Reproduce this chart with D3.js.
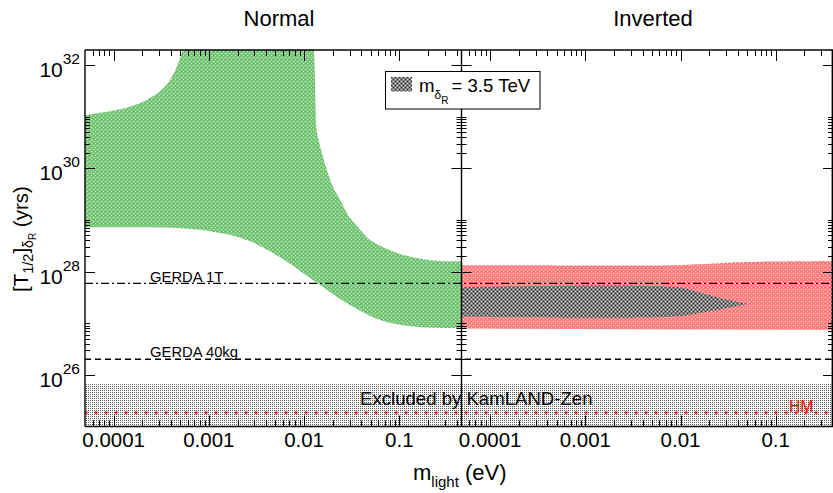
<!DOCTYPE html>
<html><head><meta charset="utf-8">
<script src="https://cdn.jsdelivr.net/npm/d3@7"></script>
<style>body{margin:0;background:#fff}svg{display:block}text{font-family:"Liberation Sans",Arial,Helvetica,sans-serif}</style>
</head><body><svg id="c" width="833" height="493"></svg>
<script>
// ---------------- data ----------------
const panelTitles = ["Normal", "Inverted"];
const xTickValues = [1e-4, 1e-3, 1e-2, 1e-1];
const xTickLabels = ["0.0001", "0.001", "0.01", "0.1"];
const yTickExponents = [26, 28, 30, 32];

// Normal hierarchy band: [m_light (eV), T_1/2 (yrs)]
const normalUpper = [[5e-5,1.07e31],[1.38e-4,1.5e31],[2.41e-4,2.3e31],[3.72e-4,4.5e31],[5.22e-4,1.8e32],[6.0e-4,1e33],
  [0.012,1e33],[0.0127,2.0e32],[0.01324,1.5e31],[0.01355,5.5e30],[0.0158,1.66e30],[0.0201,4.4e29],[0.0239,2.45e29],
  [0.0282,1.35e29],[0.0416,5.6e28],[0.0493,4.1e28],[0.0946,2.3e28],[0.21,1.66e28],[0.45,1.58e28]];
const normalLower = [[5e-5,7.2e28],[4.98e-4,6.9e28],[1.11e-3,5.9e28],[2.5e-3,4.1e28],[5.58e-3,1.9e28],[0.0124,6.9e27],
  [0.0282,2.43e27],[0.0628,1.15e27],[0.14,8.6e26],[0.45,7.9e26]];
// Inverted hierarchy band
const invertedUpper = [[5e-5,1.33e28],[0.008,1.33e28],[0.02,1.42e28],[0.05,1.53e28],[0.4,1.6e28]];
const invertedLower = [[5e-5,7.9e26],[0.4,7.4e26]];
// m_deltaR = 3.5 TeV band (inverted)
const deltaUpper = [[5e-5,5.0e27],[0.0092,5.0e27],[0.0149,4.06e27],[0.026,3.07e27],[0.0512,2.35e27]];
const deltaLower = [[5e-5,1.33e27],[0.0078,1.33e27],[0.0149,1.55e27],[0.026,1.85e27],[0.0512,2.35e27]];

const gerda1T = 5.9e27;
const gerda40kg = 2.0e26;
const kamlandZen = 6.6e25;
const hmClaim = 1.85e25;
const legendText = "= 3.5 TeV";

// ---------------- layout ----------------
const svg = d3.select("#c");
const pTop = 50, pBot = 426.5, xL0 = 85, xMid = 461.5, xR1 = 833;

const xL = d3.scaleLog().domain([5e-5, 0.45]).range([xL0, xMid]);
const xR = d3.scaleLog().domain([5e-5, 0.40]).range([xMid, xR1]);
const y = d3.scaleLog().domain([1e25, 1.95e32]).range([pBot, pTop]);

// patterns
const defs = svg.append("defs");
function pattern(id, base, dots, size) {
  const p = defs.append("pattern").attr("id", id).attr("patternUnits", "userSpaceOnUse")
    .attr("width", size).attr("height", size);
  p.append("rect").attr("width", size).attr("height", size).attr("fill", base).attr("shape-rendering","crispEdges");
  dots.forEach(d => p.append("rect").attr("x", d[0]).attr("y", d[1]).attr("width", 1).attr("height", 1)
    .attr("fill", d[2]).attr("shape-rendering","crispEdges"));
}
pattern("pGreen", "#7ac87a", [[1,1,"#c8eac8"],[3,3,"#c8eac8"],[1,3,"#60b460"]], 4);
pattern("pRed", "#ff8282", [[1,1,"#ffd8d8"],[3,3,"#ffd8d8"],[1,3,"#ff5a5a"]], 4);
pattern("pGray", "#7e7e7e", [[1,1,"#d8d8d8"],[3,3,"#d8d8d8"],[1,3,"#303030"],[3,1,"#303030"]], 4);
pattern("pKam", "#ffffff", [[0,0,"#585858"]], 2);

defs.append("clipPath").attr("id", "clipL").append("rect")
  .attr("x", xL0).attr("y", pTop).attr("width", xMid - xL0).attr("height", pBot - pTop);
defs.append("clipPath").attr("id", "clipR").append("rect")
  .attr("x", xMid).attr("y", pTop).attr("width", xR1 - xMid).attr("height", pBot - pTop);

function bandPath(x, upper, lower) {
  const line = d3.line().x(d => x(d[0])).y(d => y(d[1])).curve(d3.curveCatmullRom.alpha(0.5));
  const a = line(upper);
  const b = line(lower.slice().reverse());
  return a + "L" + b.slice(1) + "Z";
}

const gL = svg.append("g").attr("clip-path", "url(#clipL)");
const gR = svg.append("g").attr("clip-path", "url(#clipR)");

gL.append("path").attr("d", bandPath(xL, normalUpper, normalLower)).attr("fill", "url(#pGreen)");
gR.append("path").attr("d", bandPath(xR, invertedUpper, invertedLower)).attr("fill", "url(#pRed)");
gR.append("path").attr("d", bandPath(xR, deltaUpper, deltaLower)).attr("fill", "url(#pGray)");

// KamLAND-Zen excluded region
svg.append("rect").attr("x", xL0).attr("y", y(kamlandZen)).attr("width", xR1 - xL0)
  .attr("height", pBot - y(kamlandZen)).attr("fill", "url(#pKam)");

// horizontal limit lines
function hline(v, dash, color, w) {
  svg.append("line").attr("x1", xL0).attr("x2", xR1).attr("y1", y(v)).attr("y2", y(v))
    .attr("stroke", color).attr("stroke-width", w).attr("stroke-dasharray", dash);
}
hline(hmClaim, "2.5,7.5", "#ff0000", 2.2);
hline(gerda1T, "8,3,2,3", "#000", 1.4);
hline(gerda40kg, "6,4", "#000", 1.4);

// text labels
svg.append("text").attr("x", 150).attr("y", y(gerda1T) - 1.8).attr("font-size", 14.8).text("GERDA 1T");
svg.append("text").attr("x", 150).attr("y", y(gerda40kg) - 2.6).attr("font-size", 14.8).text("GERDA 40kg");
svg.append("text").attr("x", 360).attr("y", 405).attr("font-size", 18.6).text("Excluded by KamLAND-Zen");
svg.append("text").attr("x", 789).attr("y", 411.5).attr("font-size", 15.6).attr("fill", "#ff0000").text("HM");

// titles
svg.append("text").attr("x", 279).attr("y", 25.5).attr("text-anchor", "middle").attr("font-size", 22).text(panelTitles[0]);
svg.append("text").attr("x", 653).attr("y", 25.5).attr("text-anchor", "middle").attr("font-size", 22).text(panelTitles[1]);

// frames
const frame = svg.append("g").attr("stroke", "#000").attr("stroke-width", 1.4).attr("fill", "none");
frame.append("line").attr("x1", xL0).attr("x2", xR1).attr("y1", pTop).attr("y2", pTop);
frame.append("line").attr("x1", xL0).attr("x2", xR1).attr("y1", pBot).attr("y2", pBot);
frame.append("line").attr("x1", xL0).attr("x2", xL0).attr("y1", pTop).attr("y2", pBot);
frame.append("line").attr("x1", xMid).attr("x2", xMid).attr("y1", pTop).attr("y2", pBot);
frame.append("line").attr("x1", xR1 - 0.7).attr("x2", xR1 - 0.7).attr("y1", pTop).attr("y2", pBot);

// x ticks
const tk = svg.append("g").attr("stroke", "#000").attr("stroke-width", 1);
[xL, xR].forEach(x => {
  x.ticks().forEach(v => {
    const e = Math.log10(v);
    const major = Math.abs(e - Math.round(e)) < 1e-6;
    const len = major ? 11 : 6;
    const px = Math.round(x(v)) + 0.5;
    if (px <= x.range()[0] + 1 || px >= x.range()[1] - 1) return;
    tk.append("line").attr("x1", px).attr("x2", px).attr("y1", pBot).attr("y2", pBot - len);
    tk.append("line").attr("x1", px).attr("x2", px).attr("y1", pTop).attr("y2", pTop + len);
  });
});
[xL, xR].forEach(x => {
  xTickValues.forEach((v, i) => {
    svg.append("text").attr("x", x(v)).attr("y", 447).attr("text-anchor", "middle")
      .attr("font-size", 20.5).text(xTickLabels[i]);
  });
});

// y ticks
y.ticks().forEach(v => {
  const e = Math.floor(Math.log10(v) + 1e-9);
  const k = Math.round(v / Math.pow(10, e));
  let len = 0;
  if (k === 1 && e % 2 === 0) len = 10;
  else if (k === 1) len = 5;
  else if (e % 2 === 0) len = 5;
  if (!len) return;
  const py = Math.round(y(v)) + 0.5;
  if (py < pTop + 1 || py > pBot - 1) return;
  tk.append("line").attr("x1", xL0).attr("x2", xL0 + len).attr("y1", py).attr("y2", py);
  tk.append("line").attr("x1", xMid - len).attr("x2", xMid + len).attr("y1", py).attr("y2", py);
  tk.append("line").attr("x1", xR1 - len).attr("x2", xR1).attr("y1", py).attr("y2", py);
});
yTickExponents.forEach(ex => {
  const t = svg.append("text").attr("x", 80).attr("y", y(Math.pow(10, ex)) + 12).attr("text-anchor", "end");
  t.append("tspan").attr("font-size", 21).text("10");
  t.append("tspan").attr("font-size", 15.5).attr("dy", -13).text(String(ex));
});

// axis titles
const xt = svg.append("text").attr("x", 413).attr("y", 480).attr("font-size", 22);
xt.append("tspan").text("m");
xt.append("tspan").attr("font-size", 15).attr("dy", 6.5).text("light");
xt.append("tspan").attr("dy", -6.5).text(" (eV)");

const yt = svg.append("text").attr("transform", "translate(28,292) rotate(-90)").attr("font-size", 20.5);
yt.append("tspan").text("[T");
yt.append("tspan").attr("font-size", 14.5).attr("dy", 5).text("1/2");
yt.append("tspan").attr("dy", -5).text("]");
yt.append("tspan").attr("font-size", 14).attr("dy", 5).text("δ");
yt.append("tspan").attr("font-size", 10).attr("dy", 3).text("R");
yt.append("tspan").attr("dy", -8).text(" (yrs)");

// legend
const lg = svg.append("g");
lg.append("rect").attr("x", 385.5).attr("y", 71.5).attr("width", 154.5).attr("height", 37.5)
  .attr("fill", "#fff").attr("stroke", "#000").attr("stroke-width", 1);
lg.append("rect").attr("x", 391).attr("y", 77).attr("width", 21).attr("height", 14.5).attr("fill", "url(#pGray)");
const lt = lg.append("text").attr("x", 419).attr("y", 91.7).attr("font-size", 18.6);
lt.append("tspan").text("m");
lt.append("tspan").attr("font-size", 12).attr("dy", 7.6).text("δ");
lt.append("tspan").attr("font-size", 10).attr("dy", 4.7).text("R");
lt.append("tspan").attr("x", 451.5).attr("y", 91.7).text(legendText);
</script></body></html>
